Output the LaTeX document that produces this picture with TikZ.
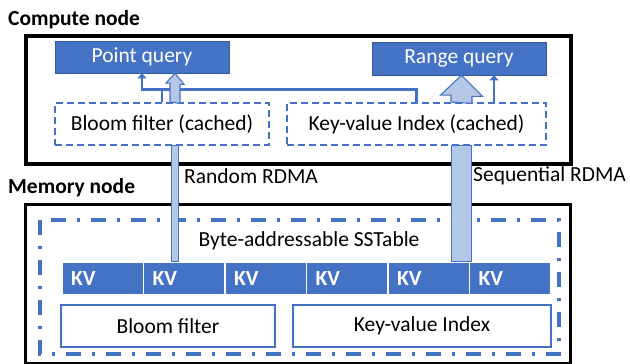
\documentclass[tikz,border=0pt]{standalone}
\usepackage{fontspec}
\setmainfont{Carlito}
\usepackage{tikz}
\usetikzlibrary{arrows.meta,calc,positioning}

\definecolor{accblue}{HTML}{4472C4}
\definecolor{lightblue}{HTML}{B4C7E7}
\newcommand{\picfont}{\fontsize{21.5}{25}\selectfont}

\tikzset{
    hostbox/.style={draw,line width=3.2pt,minimum width=545pt},
    querybox/.style={fill=accblue,draw=accblue!80!black,line width=0.6pt,text=white,
        minimum width=174pt,minimum height=32pt,inner sep=0pt},
    cachedbox/.style={draw=accblue,dashed,dash pattern=on 7pt off 4pt,line width=1.8pt,
        minimum height=42pt,inner sep=0pt},
    storebox/.style={draw=accblue,line width=1.6pt,minimum height=42pt,inner sep=0pt},
    kvcell/.style={fill=accblue,draw=white,line width=1.2pt,text=white,font=\picfont\bfseries,
        minimum width=81.5pt,minimum height=33pt,text width=63.5pt,inner xsep=9pt,align=left},
    link/.style={draw=accblue,line width=2.6pt},
    arr/.style={link,-{Triangle[length=5pt,width=9pt]}},
    fatarrow/.style={fill=lightblue,draw=accblue,line width=1.1pt},
    title/.style={font=\picfont\bfseries,anchor=west,inner sep=0pt}
}

\begin{document}
\begin{tikzpicture}[x=1pt,y=-1pt,font=\picfont]
    \useasboundingbox (0,0) rectangle (630,364);

    \node[title] (cn) at (8,20) {Compute node};
    \node[title] (mn) at (8,188) {Memory node};

    \node[hostbox,minimum height=128pt] (comp) at (298.5,100) {};
    \node[hostbox,minimum height=159pt] (mem) at (298,284) {};

    \node[querybox] (pq) at (142,57) {Point query};
    \node[querybox,minimum height=33pt] (rq) at (459,58.5) {Range query};
    \node[cachedbox,minimum width=214pt] (bfc) at (162,124) {Bloom filter (cached)};
    \node[cachedbox,minimum width=259pt] (kvc) at (416.5,124) {Key-value Index (cached)};

    \draw[draw=accblue,line width=3.2pt,dash pattern=on 15pt off 11pt on 3pt off 11pt]
        (40,220) rectangle (559,354);
    \node (sst) at (309,241) {Byte-addressable SSTable};
    \foreach \i in {1,...,6}
        \node[kvcell] (kv\i) at ({62+81.5*(\i-0.5)},278.5) {KV};
    \node[storebox,minimum width=214pt] (bfm) at (168,326) {Bloom filter};
    \node[storebox,minimum width=258pt] (kvm) at (422,326) {Key-value Index};

    \coordinate (jn) at ([yshift=-16pt]pq.south);
    \draw[arr] (kvc.north) |- (jn) -- (pq.south);
    \draw[link] (bfc.north) -- (bfc.north |- jn);
    \draw[arr] ([xshift=77.5pt]kvc.north) -- ([xshift=77.5pt]kvc.north |- rq.south);

    \coordinate (pa) at ([xshift=13pt]bfc.north);
    \draw[fatarrow] ([xshift=-5pt]pa) -- ++(0,-19) -- ++(-4,0) -- (pa |- pq.south)
        -- ++(9,11) -- ++(-4,0) -- ++(0,19) -- cycle;
    \draw[fatarrow] ([xshift=-3.5pt]pa |- bfc.south) rectangle ([xshift=3.5pt]pa |- kv2.north);

    \coordinate (ra) at ([xshift=45pt]kvc.north);
    \draw[fatarrow] ([xshift=-10.5pt]ra) -- ++(0,-7) -- ++(-10.5,0) -- (ra |- rq.south)
        -- ++(21,21) -- ++(-10.5,0) -- ++(0,7) -- cycle;
    \draw[fatarrow] ([xshift=-10pt]ra |- kvc.south) rectangle ([xshift=10pt]ra |- kv5.north);

    \node[anchor=west,inner sep=0pt] (rnd) at (184,176) {Random RDMA};
    \node[anchor=west,inner sep=0pt] (seq) at (473,176) {Sequential RDMA};
\end{tikzpicture}
\end{document}
